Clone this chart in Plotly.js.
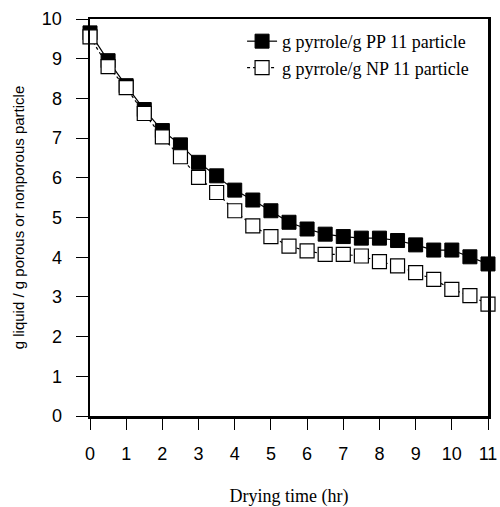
<!DOCTYPE html>
<html>
<head>
<meta charset="utf-8">
<script src="https://cdn.plot.ly/plotly-3.0.1.min.js"></script>
<style>html,body{margin:0;padding:0;background:#fff;}#chart{width:500px;height:507px;}</style>
</head>
<body>
<div id="chart"></div>
<script>
const dryingTime = [0,0.5,1,1.5,2,2.5,3,3.5,4,4.5,5,5.5,6,6.5,7,7.5,8,8.5,9,9.5,10,10.5,11];
const ppValues = [9.65,8.95,8.32,7.72,7.19,6.83,6.39,6.05,5.69,5.44,5.17,4.88,4.71,4.58,4.52,4.48,4.48,4.42,4.31,4.18,4.18,4.01,3.83];
const npValues = [9.55,8.8,8.27,7.62,7.03,6.53,6.01,5.63,5.17,4.79,4.52,4.28,4.16,4.07,4.07,4.03,3.89,3.78,3.61,3.44,3.19,3.03,2.82];
const seriesNames = ["g pyrrole/g PP 11 particle", "g pyrrole/g NP 11 particle"];
const xTicks = [0,1,2,3,4,5,6,7,8,9,10,11];
const yTicks = [0,1,2,3,4,5,6,7,8,9,10];

const traces = [
  {
    x: dryingTime, y: ppValues, name: seriesNames[0], type: 'scatter', mode: 'lines+markers',
    line: {color: '#000', width: 1.2},
    marker: {symbol: 'square', size: 14, color: '#000', line: {color: '#000', width: 1}},
    cliponaxis: false
  },
  {
    x: dryingTime, y: npValues, name: seriesNames[1], type: 'scatter', mode: 'lines+markers',
    line: {color: '#000', width: 1.2, dash: 'dot'},
    marker: {symbol: 'square', size: 14, color: '#fff', line: {color: '#000', width: 1.2}},
    cliponaxis: false
  }
];

const layout = {
  width: 500, height: 507,
  margin: {l: 90, r: 12, t: 19, b: 91},
  paper_bgcolor: '#fff', plot_bgcolor: '#fff',
  showlegend: true,
  legend: {
    x: 0.965, y: 0.99, xanchor: 'right', yanchor: 'top',
    bgcolor: 'rgba(0,0,0,0)', borderwidth: 0,
    font: {family: 'Liberation Serif, Times New Roman, serif', size: 18, color: '#000'},
    tracegroupgap: 0, itemwidth: 30
  },
  xaxis: {
    range: [0, 11], tickmode: 'array', tickvals: xTicks, ticktext: xTicks.map(String),
    ticks: 'outside', ticklen: 11, tickwidth: 1, tickcolor: '#000', ticklabelstandoff: 9,
    showline: true, linecolor: '#000', linewidth: 2.5, mirror: true,
    showgrid: false, zeroline: false,
    tickfont: {family: 'Liberation Sans, Arial, sans-serif', size: 18, color: '#000'},
    title: {text: 'Drying time (hr)', font: {family: 'Liberation Serif, Times New Roman, serif', size: 18, color: '#000'}, standoff: 38}
  },
  yaxis: {
    range: [0, 10], tickmode: 'array', tickvals: yTicks, ticktext: yTicks.map(String),
    ticks: 'outside', ticklen: 12, tickwidth: 1, tickcolor: '#000', ticklabelstandoff: 10,
    showline: true, linecolor: '#000', linewidth: 2.5, mirror: true,
    showgrid: false, zeroline: false,
    tickfont: {family: 'Liberation Sans, Arial, sans-serif', size: 18, color: '#000'},
    title: {text: 'g liquid / g porous or nonporous particle', font: {family: 'Liberation Sans, Arial, sans-serif', size: 15, color: '#000'}, standoff: 14}
  }
};

Plotly.newPlot('chart', traces, layout, {staticPlot: true, displayModeBar: false});
</script>
</body>
</html>
